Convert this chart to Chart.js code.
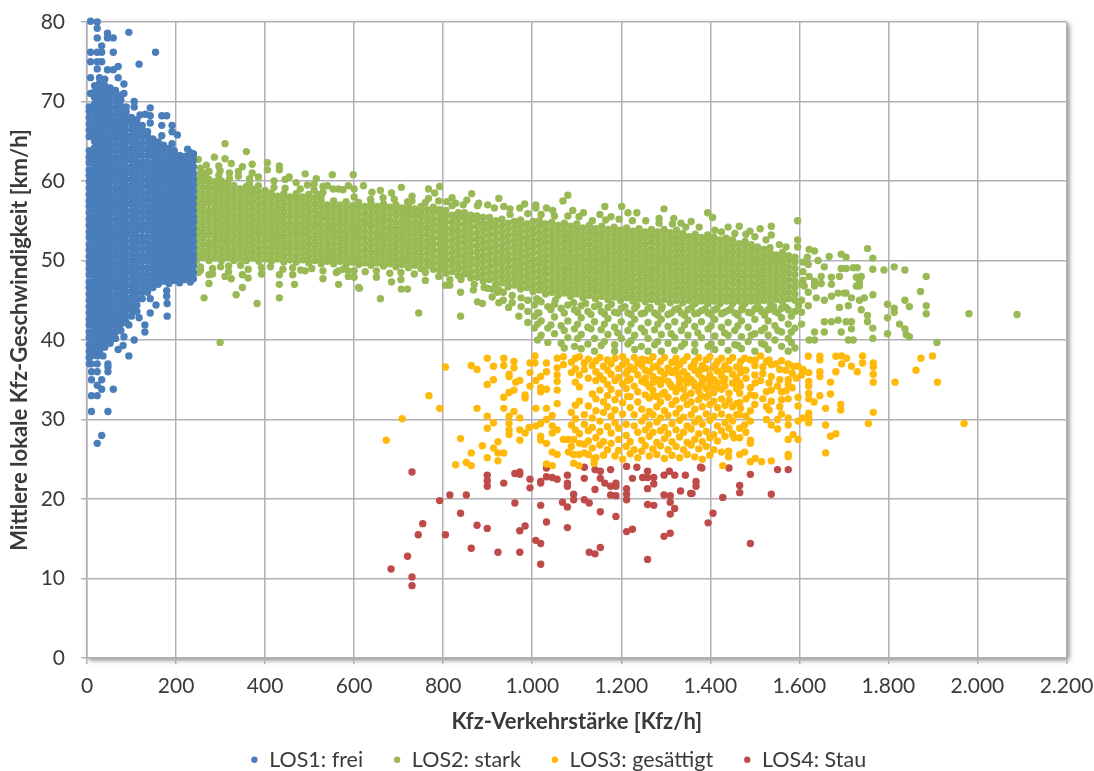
<!DOCTYPE html>
<html lang="de">
<head>
<meta charset="UTF-8" />
<title>Kfz-Geschwindigkeit</title>
<script src="https://cdn.jsdelivr.net/npm/chart.js"></script>
<style>
  html, body { margin: 0; background: #fff; overflow: hidden; }
  canvas { display: block; filter: blur(0.5px); }
</style>
</head>
<body>
<canvas id="chart" width="1094" height="771"></canvas>
<script>
const seriesNames = ['LOS1: frei', 'LOS2: stark', 'LOS3: gesättigt', 'LOS4: Stau'];
const seriesColors = ['#4a7ebb', '#98b954', '#ffb90a', '#be4b48'];
const xTicks = [0, 200, 400, 600, 800, 1000, 1200, 1400, 1600, 1800, 2000, 2200];
const yTicks = [0, 10, 20, 30, 40, 50, 60, 70, 80];

// values are rows: [Kfz/h, km/h, km/h, ...]. solid areas are estimated, single dots read off
const los1Core = [
  [5,37,37.8,38.6,39.4,40.3,41,41.9,42.6,43.4,44.2,45,45.8,46.6,47.3,48.2,49,49.7,50.5,51.3,52,52.9,53.6,54.4,55.2,56,56.8,57.5,58.3,59.1,59.9,60.7,61.4,62.3,63,63.8,65.6,66.4,67.2,68,68.8,69.3],
  [17,38.4,39.1,39.8,40.6,41.4,42.2,43,43.8,44.5,45.3,46.1,46.9,47.7,48.5,49.3,50.1,50.8,51.6,52.4,53.2,54,54.8,55.5,56.4,57.2,57.9,58.7,59.5,60.3,61.1,61.8,62.6,63.4,64.2,65,65.8,66.6,67.3,68.1,68.9,69.7,70.5,71.2,72],
  [28,38.6,39.4,40.2,41,41.8,42.5,43.3,44.1,44.9,45.7,46.5,47.2,48,48.8,49.6,50.4,51.2,52,52.7,53.5,54.3,55.1,55.9,56.7,57.4,58.2,59,59.8,60.6,61.4,62.1,62.9,63.7,64.5,65.3,66.1,66.8,67.6,68.4,69.2,70,70.8,71.6,72.3,73],
  [40,39.1,39.9,40.6,41.4,42.2,43,43.8,44.6,45.3,46.1,46.9,47.7,48.5,49.3,50,50.8,51.6,52.4,53.2,54,54.7,55.5,56.3,57.1,57.9,58.7,59.4,60.2,61,61.8,62.6,63.4,64.1,64.9,65.7,66.5,67.3,68.1,68.8,69.6,70.4,71.2,72,72.8],
  [52,39.6,40.4,41.1,41.9,42.7,43.5,44.3,45,45.8,46.6,47.4,48.2,49,49.7,50.5,51.3,52.1,52.9,53.7,54.4,55.2,56,56.8,57.6,58.3,59.1,59.9,60.7,61.5,62.3,63,63.8,64.6,65.4,66.2,67,67.7,68.5,69.3,70.1,70.9,71.7],
  [64,40.2,41,41.8,42.5,43.3,44.1,44.9,45.7,46.5,47.2,48,48.8,49.6,50.4,51.2,51.9,52.7,53.5,54.3,55.1,55.9,56.6,57.4,58.2,59,59.8,60.6,61.3,62.1,62.9,63.7,64.5,65.3,66,66.8,67.6,68.4,69.2,70,70.8,71.4],
  [76,41.2,42,42.8,43.6,44.3,45.1,45.9,46.7,47.5,48.3,49,49.8,50.6,51.4,52.2,53,53.7,54.5,55.3,56.1,56.9,57.7,58.4,59.2,60,60.8,61.6,62.4,63.1,63.9,64.7,65.5,66.3,67.1,67.8,68.6,69.4,70.2,70.8],
  [88,42.2,43,43.8,44.6,45.3,46.1,46.9,47.7,48.5,49.3,50,50.8,51.6,52.4,53.2,54,54.7,55.5,56.3,57.1,57.9,58.7,59.4,60.2,61,61.8,62.6,63.4,64.1,64.9,65.7,66.5,67.3,68,68.7,69.3],
  [100,43,43.8,44.5,45.3,46.1,46.9,47.7,48.5,49.2,50,50.8,51.6,52.4,53.2,53.9,54.7,55.5,56.3,57.1,57.9,58.6,59.4,60.2,61,61.8,62.6,63.3,64.1,64.9,65.7,66.5,67.3,68],
  [112,43.6,44.4,45.1,45.9,46.7,47.5,48.3,49.1,49.8,50.6,51.4,52.2,53,53.8,54.5,55.3,56.1,56.9,57.7,58.5,59.2,60,60.8,61.6,62.4,63.2,63.9,64.7,65.5,66.3,67.1,67.7],
  [124,45.2,46,46.8,47.6,48.3,49.1,49.9,50.7,51.5,52.3,53,53.8,54.6,55.4,56.2,57,57.7,58.5,59.3,60.1,60.9,61.7,62.4,63.2,64,64.8,65.6,66.4,67],
  [136,46,46.8,47.5,48.3,49.1,49.9,50.7,51.5,52.2,53,53.8,54.6,55.4,56.2,56.9,57.7,58.5,59.3,60.1,60.9,61.6,62.4,63.2,64,64.8,65.6,66.2],
  [148,46.6,47.4,48.2,49,49.7,50.5,51.3,52.1,52.9,53.7,54.4,55.2,56,56.8,57.6,58.4,59.1,59.9,60.7,61.5,62.3,63.1,63.8,64.6,65.3],
  [160,47,47.8,48.5,49.3,50.1,50.9,51.7,52.5,53.2,54,54.8,55.6,56.4,57.2,57.9,58.7,59.5,60.3,61.1,61.9,62.6,63.4,64.2,64.9],
  [172,47.4,48.2,49,49.8,50.5,51.3,52.1,52.9,53.7,54.5,55.2,56,56.8,57.6,58.4,59.2,59.9,60.7,61.5,62.3,63.1,63.9,64.5],
  [184,47.1,47.9,48.7,49.4,50.2,51,51.8,52.6,53.4,54.1,54.9,55.7,56.5,57.3,58.1,58.8,59.6,60.4,61.2,62,62.8,63.5,64.1],
  [196,47.5,48.3,49.1,49.9,50.6,51.4,52.2,53,53.8,54.6,55.3,56.1,56.9,57.7,58.5,59.3,60,60.8,61.6,62.4,63.2,63.8],
  [208,47.2,48,48.8,49.5,50.3,51.1,51.9,52.7,53.5,54.2,55,55.8,56.6,57.4,58.2,58.9,59.7,60.5,61.3,62.1,62.8,63.2],
  [220,47.6,48.4,49.2,50,50.7,51.5,52.3,53.1,53.9,54.7,55.4,56.2,57,57.8,58.6,59.4,60.1,60.9,61.7,62.5,63.1],
  [232,47.3,48.1,48.9,49.6,50.4,51.2,52,52.8,53.6,54.3,55.1,55.9,56.7,57.5,58.3,59,59.8,60.6,61.4,62.2,63,63.6],
  [239,47.7,48.5,49.3,50.1,50.8,51.6,52.4,53.2,54,54.8,55.5,56.3,57.1,57.9,58.7,59.5,60.2,61,61.8,62.6,63.4]
];
const los1Single = [
  [8,80.1,76.2,75,73,71],[23,80,79.2,78,76.2,75,74.1,71,38,37,36,34.3,33,27],[33,77,76.2,75,35,33.8,28],[46,78.6,78,74],[59,78,76.2,74,33.8],
  [94,78.7,41.9,38],[154,76.2],[117,74.7,42.8],[70,74.4,73,38.8],[83,72.2,71,40.4,42.8],[106,70,69.3,40],[142,69.2,68.2,67.3,43.4,45.2],
  [119,68.3],[131,68.4],[168,68.2,67,65.7],[179,68.2,46.2,45.5],[191,67,66.2,64.7],[203,65.8],[226,64],[239,63.4],
  [10,39.2,38,37,36,35,33,31],[36,38],[47,37,36.6,36,31],[81,39.3],[130,41,41.9],[180,43,44.6],[155,44.4]
];
const los2Core = [
  [246,50,50.8,51.6,52.4,53.2,54,54.8,55.6,56.4,57.2,58,58.8,59.6,60.4],
  [260,50.4,51.2,52,52.8,53.6,54.4,55.2,56,56.8,57.6,58.4,59.2,60,60.6],
  [274,50,50.8,51.6,52.3,53.2,54,54.8,55.6,56.3,57.2,58,58.8,59.5,60.2],
  [288,50.3,51.1,51.9,52.7,53.5,54.3,55.1,55.9,56.7,57.5,58.3,59.1,59.9],
  [302,50,50.8,51.6,52.4,53.1,53.9,54.7,55.5,56.3,57.1,57.9,58.7,59.4,60],
  [316,50.4,51.2,52,52.7,53.5,54.3,55.1,55.9,56.7,57.5,58.2,59,59.7],
  [330,50,50.8,51.5,52.3,53.1,53.9,54.7,55.5,56.3,57,57.8,58.6,59.4],
  [344,50.3,51.1,51.9,52.7,53.5,54.3,55,55.8,56.6,57.4,58.2,59],
  [358,50,50.8,51.5,52.3,53.1,53.9,54.7,55.5,56.3,57.1,57.8,58.6,59.3],
  [372,50.3,51.1,51.9,52.7,53.5,54.2,55,55.8,56.6,57.4,58.2,59],
  [386,49.9,50.7,51.5,52.3,53.1,53.8,54.6,55.4,56.2,57,57.8,58.6],
  [400,50.2,51,51.8,52.6,53.4,54.2,55,55.7,56.5,57.3,58.1,58.8],
  [414,49.9,50.7,51.5,52.3,53,53.8,54.6,55.4,56.2,57,57.8,58.5],
  [428,50.2,51,51.8,52.6,53.3,54.1,54.9,55.7,56.5,57.3,58.1],
  [442,49.8,50.6,51.4,52.2,53,53.8,54.5,55.3,56.1,56.9,57.7,58.4],
  [456,50.1,50.9,51.7,52.5,53.3,54.1,54.8,55.6,56.4,57.2,58],
  [470,49.8,50.6,51.4,52.2,53,53.7,54.5,55.3,56.1,56.9,57.7,58.4],
  [484,50.1,50.9,51.7,52.5,53.3,54,54.8,55.6,56.4,57.2,58],
  [498,49.7,50.5,51.3,52.1,52.9,53.7,54.5,55.2,56,56.8,57.6,58.3],
  [512,50,50.8,51.6,52.4,53.2,54,54.7,55.5,56.3,57.1,57.9],
  [526,49.6,50.4,51.2,52,52.8,53.6,54.4,55.2,55.9,56.7,57.5,58.1],
  [540,49.9,50.7,51.5,52.3,53.1,53.9,54.6,55.4,56.2,57],
  [554,49.6,50.4,51.2,52,52.8,53.6,54.3,55.1,55.9,56.7,57.5],
  [568,49.9,50.7,51.5,52.3,53.1,53.8,54.6,55.4,56.2,57],
  [582,49.5,50.3,51.1,51.9,52.7,53.5,54.3,55,55.8,56.6,57.4],
  [596,49.8,50.6,51.4,52.2,53,53.8,54.5,55.3,56.1,56.9],
  [610,49.5,50.3,51.1,51.9,52.7,53.4,54.2,55,55.8,56.6,57.3],
  [624,49.7,50.5,51.3,52.1,52.9,53.7,54.5,55.2,56,56.8],
  [638,49.4,50.2,51,51.8,52.6,53.4,54.2,54.9,55.7,56.5,57.2],
  [652,49.7,50.5,51.3,52.1,52.9,53.6,54.4,55.2,56,56.8],
  [666,49.3,50.1,50.9,51.7,52.5,53.3,54.1,54.9,55.6,56.4,57.1],
  [680,49.6,50.4,51.2,52,52.8,53.6,54.3,55.1,55.9,56.7],
  [694,49.2,50,50.8,51.6,52.4,53.2,54,54.8,55.6,56.3,57],
  [708,49.5,50.3,51.1,51.9,52.7,53.5,54.3,55,55.8,56.6],
  [722,49.1,49.9,50.7,51.5,52.3,53.1,53.9,54.7,55.5,56.2,56.9],
  [736,49.4,50.2,51,51.8,52.6,53.4,54.2,54.9,55.7,56.5],
  [750,49,49.8,50.6,51.4,52.2,53,53.8,54.6,55.4,56.1,56.8],
  [764,49.3,50.1,50.9,51.7,52.5,53.3,54.1,54.9,55.6,56.4],
  [778,48.9,49.7,50.5,51.3,52.1,52.9,53.7,54.5,55.3,56.1,56.7],
  [792,48.8,49.6,50.4,51.2,52,52.8,53.6,54.3,55.1,55.9,56.4],
  [806,48.4,49.2,50,50.8,51.6,52.4,53.2,54,54.8,55.6,56.3],
  [820,48.6,49.4,50.2,51,51.8,52.6,53.4,54.1,54.9,55.7],
  [834,48.1,48.9,49.7,50.5,51.3,52.1,52.9,53.7,54.5,55.3,56],
  [848,48.3,49.1,49.9,50.7,51.5,52.3,53.1,53.8,54.6,55.4,56],
  [862,47.8,48.6,49.4,50.2,51,51.8,52.6,53.4,54.2,55,55.7],
  [876,47.9,48.7,49.5,50.3,51.1,51.9,52.7,53.5,54.3,55,55.6],
  [890,47.4,48.2,49,49.8,50.6,51.4,52.2,53,53.8,54.6,55.4],
  [904,47.6,48.4,49.2,50,50.8,51.6,52.4,53.2,54,54.7,55.4],
  [918,47,47.8,48.6,49.4,50.2,51,51.8,52.6,53.4,54.2,55],
  [932,47.2,48,48.8,49.6,50.4,51.2,52,52.8,53.6,54.4,55.2],
  [946,46.7,47.5,48.3,49.1,49.9,50.7,51.5,52.3,53.1,53.9,54.7],
  [960,46.9,47.7,48.5,49.3,50.1,50.9,51.7,52.5,53.3,54.1,54.9],
  [974,46.4,47.2,48,48.8,49.6,50.4,51.2,52,52.8,53.6,54.4,55.1],
  [988,46.6,47.4,48.2,49,49.8,50.6,51.4,52.2,53,53.8,54.6],
  [1002,46.1,46.9,47.7,48.5,49.3,50.1,50.9,51.7,52.5,53.3,54.1,54.9],
  [1016,46.3,47.1,47.9,48.7,49.5,50.3,51.1,51.9,52.7,53.5,54.3,55],
  [1030,45.8,46.6,47.4,48.2,49,49.8,50.6,51.4,52.2,53,53.8,54.6],
  [1044,46,46.8,47.6,48.4,49.2,50,50.8,51.6,52.4,53.2,54,54.8],
  [1058,45.6,46.4,47.2,48,48.8,49.6,50.4,51.2,52,52.8,53.6,54.4],
  [1072,45.9,46.7,47.5,48.3,49.1,49.9,50.7,51.5,52.3,53.1,53.9,54.7],
  [1086,45.5,46.3,47.1,47.9,48.7,49.5,50.3,51.1,51.9,52.7,53.5,54.3],
  [1100,45.8,46.6,47.4,48.2,49,49.8,50.6,51.4,52.2,53,53.8,54.6],
  [1114,45.3,46.1,46.9,47.7,48.5,49.3,50.1,50.9,51.7,52.5,53.3,54.1],
  [1128,45.6,46.4,47.2,48,48.8,49.6,50.4,51.2,52,52.8,53.6,54.4],
  [1142,45.2,46,46.8,47.6,48.4,49.2,50,50.8,51.6,52.4,53.2,54],
  [1156,45.5,46.3,47.1,47.9,48.7,49.5,50.3,51.1,51.9,52.7,53.5,54.3],
  [1170,45.1,45.9,46.7,47.5,48.3,49.1,49.9,50.7,51.5,52.3,53.1,53.9],
  [1184,45.4,46.2,47,47.8,48.6,49.4,50.2,51,51.8,52.6,53.4,54.2],
  [1198,45,45.8,46.6,47.4,48.2,49,49.8,50.6,51.4,52.2,53,53.8],
  [1212,45.3,46.1,46.9,47.7,48.5,49.3,50.1,50.9,51.7,52.5,53.3,54.1],
  [1226,44.9,45.7,46.5,47.3,48.1,48.9,49.7,50.5,51.3,52.1,52.9,53.7],
  [1240,45.2,46,46.8,47.6,48.4,49.2,50,50.8,51.6,52.4,53.2,54],
  [1254,44.8,45.6,46.4,47.2,48,48.8,49.6,50.4,51.2,52,52.8,53.6],
  [1268,45.1,45.9,46.7,47.5,48.3,49.1,49.9,50.7,51.5,52.3,53.1,53.9],
  [1282,44.8,45.6,46.4,47.2,48,48.8,49.6,50.4,51.2,52,52.8,53.6],
  [1296,45.1,45.9,46.7,47.5,48.3,49.1,49.9,50.7,51.5,52.3,53.1,53.9],
  [1310,44.7,45.5,46.3,47.1,47.9,48.7,49.5,50.3,51.1,51.9,52.7,53.5],
  [1324,45,45.8,46.6,47.4,48.2,49,49.8,50.6,51.4,52.2,53,53.8],
  [1338,44.7,45.5,46.3,47.1,47.9,48.7,49.5,50.3,51.1,51.9,52.7,53.4],
  [1352,45,45.8,46.6,47.4,48.2,49,49.8,50.6,51.4,52.2,53],
  [1366,44.6,45.4,46.2,47,47.8,48.6,49.4,50.2,51,51.8,52.6,53.3],
  [1380,44.9,45.7,46.5,47.3,48.1,48.9,49.7,50.5,51.3,52.1,52.9],
  [1394,44.6,45.4,46.2,47,47.8,48.6,49.4,50.2,51,51.8,52.6,53.2],
  [1408,44.9,45.7,46.5,47.3,48.1,48.9,49.7,50.5,51.3,52.1,52.9],
  [1422,44.6,45.4,46.2,47,47.8,48.6,49.4,50.2,51,51.8,52.6],
  [1436,44.9,45.7,46.5,47.3,48.1,48.9,49.7,50.5,51.3,52.1,52.8],
  [1450,44.6,45.4,46.2,47,47.8,48.6,49.4,50.2,51,51.8,52.6],
  [1464,44.9,45.7,46.5,47.3,48.1,48.9,49.7,50.5,51.3,52.1],
  [1478,44.6,45.4,46.2,47,47.8,48.6,49.4,50.2,51,51.8,52.4],
  [1492,44.9,45.7,46.5,47.3,48.1,48.9,49.7,50.5,51.3,52],
  [1506,44.6,45.4,46.2,47,47.8,48.6,49.4,50.2,51,51.7],
  [1520,45,45.8,46.6,47.4,48.2,49,49.8,50.6,51.4],
  [1534,44.7,45.5,46.3,47.1,47.9,48.7,49.5,50.3,51,51.6],
  [1548,45.1,45.9,46.7,47.5,48.3,49.1,49.9,50.7],
  [1562,44.8,45.6,46.4,47.2,48,48.8,49.6,50.4,51],
  [1576,45.2,46,46.8,47.6,48.4,49.2,50,50.6],
  [1590,45,45.8,46.6,47.4,48.2,49,49.8,50.4]
];
const los2Edge = [
  [255,61.6,60.9,49.2,48.8],[268,62,61],[282,49,48.3],[296,60.7,61.9],[300,49.2],[318,49.3,48.6],[320,61,60.3],[340,60.6,61.2],[345,49.4],[362,48.9,47.8],[365,60.3,59.7],[385,60.5,59.4],[392,49.1,48.3],
  [412,49.2],[420,60,59.2],[440,48.9],[445,60.2,59.1],[462,49.1,48.2],[470,59.8],[480,48.8],[505,49],[510,59.6,58.9],[530,59.3,58.6,48.7,47.7],[560,48.5],[575,58.9,48.9],[600,59,58,48.7,47.9],[625,48.6],
  [640,58.6],[650,48.7,47.9],[665,57.9],[680,48.4],[690,57.7],[705,48.5,47.6],[730,58.1,57.5],[735,48.3],[760,57.3,48.5,47.5],[790,57.5,48],[815,47.6,46.9],[820,57.9,56.9],[840,47.6],[845,57],[870,47],[880,57.2],
  [900,46.5],[915,56.6],[925,46.3],[950,56.5,55.8],[990,55.9],[1020,55.8],[1050,55.6],[1080,55.6],[1105,55.5],[1135,55],[1165,55.1],[1195,55.2],[1225,55],[1255,55],[1285,54.7],[1315,54.6],[1345,54.2],[1375,54.2],
  [1410,53.8],[1425,53.6],[1455,53.4],[1480,53.3],[1500,53],[1525,52.6],[1555,52],[1570,51.7],
  [1012,43.4,42,40],[1042,43.8,41.9],[1072,43.4,41.2,39],[1102,43.5,42,40.2],[1132,43.2,41.4],[1162,43.3,42,39.8],[1192,43.4,40.9],[1222,43.2,42,39.9],[1252,43.4,41],[1282,43.1,42,39.8],[1312,43.4,40.8],
  [1342,43.1,41.9,39.6],[1372,43.4,40.9],[1402,43.2,41.8,39.5],[1432,43.5,40.9],[1462,43.1,41.8,39.3],[1492,43.4,40.6],[1522,43.1,41.5,39.4],[1552,43.4,41.2],[1582,43,41,39.7],
  [1010,45.2],[1052,45],[1093,44.7],[1120,44.6],[1150,44.4],[1178,44.5],[1208,44.2],[1235,44.3],[1265,44.1],[1292,44.2],[1328,44],[1358,44.1],[1388,43.9],[1415,44],[1445,43.9],[1472,44.1],[1512,43.9],[1542,44.2],[1570,44.1],[1598,44.3]
];
const los2Single = [
  [263,45.3],[335,45.7],[382,44.6],[432,45.3,48.2,47,61.9,61.4],[299,39.7,61.3],[274,48.2,47.1,61.2],[349,46.6,48.2,61.8],[466,47],[565,47,48.7,59],[490,48.7,60.9],
  [587,48.7,48,59.4],[610,46.6],[250,48.5,62.7],[310,48,64.7,62.8],[324,47.7,62.2],[358,63.7],[286,63],[371,62.1,61],[405,62.3,61.4],[551,60.8],[598,60.8],[515,60.3],
  [454,60.5],[621,59.4],[540,59.4],[659,58.8,45.2],[706,59.2,46.4],[684,58.5,47.3],[767,59,57.8],[792,59.3],[781,58.5],[864,58.4],[925,57.8,44.7],[853,57.6],[637,57.7],
  [983,57.1],[1008,57,56.6],[972,56.6],[936,56.8],[900,57],[877,56.9,44.8],[720,57.4,46.4],[808,57.4],[828,57.2],[553,59],[495,59.5],[479,59],[517,58.3],[612,46.5],
  [745,43.4],[839,46,43],[888,44.6],[805,46.9],[922,46],[947,44.1],[970,43],[868,46.3],[1015,45,43.4],
  [2089,43.2],[1981,43.3],[1909,39.7],[1885,48,44.3,43.3],[1872,46.1],[1847,44.2,40.4],[1837,45,48.8,41.4],[1813,49.2,44,43.5],[1790,48.8],[1765,48.9,50.3,45.7,41.5,40.2],[1753,51.5,43.1,42.3],
  [1596,55,52.6,51.7],[1537,54.3,53.2],[1512,54],[1489,53.7],[1465,54.3],[1440,54.2],[1394,56],[1405,55.4],[1296,56.5],[1285,55.3],[1318,55.3],[1080,58.2],[1069,57.5],[1163,56.8],[1201,56.8],
  [1032,56.6],[1046,56.3],[1091,56.3],[1115,56],[1177,55.5],[1152,55.8],[1235,56],[1215,56],[1357,54.9],[1334,54.7],
  [1622,51.4,48,40],[1634,51.2,47.4,46.8,41,40],[1618,50.4],[1642,50],[1667,50.5],[1694,50.8,49,41],[1705,50.4,49,45.9,42.3],[1656,49.2,45,42.3,41],[1721,49.1,40],[1730,49.1],[1739,48,43.8],
  [1728,47.9,46.8],[1735,47.3,46.8,45],[1690,48,44.1],[1672,47.9,47,45.5,42.3],[1649,48,47.1],[1611,46.8],[1608,48.6,49.8,47.5],[1746,45.3],[1717,45.3,42.3,41.4],[1701,45.9],[1687,45.9,42.5],
  [1638,45.3],[1620,44.3,46,49.5],[1710,44.3,40],[1798,44.5,42.8,40.8],[1825,42],[1840,40.7],
  [1605,47,45,43.5,42],[1590,43.6,41.5,39],[1575,43.8,42,40.2,38.6],[1560,44,42.8,41,39.2],[1545,43.6,41.8,40],[1530,43.8,42.4,40.6,38.8],[1515,43.6,41.2,39.6],[1500,43.9,42.6,40.8,38.6],
  [1485,43.5,41.6,39.8],[1470,43.8,42.4,40.4,38.9],[1455,43.4,41.2,39.4],[1440,43.7,42.2,40.6,38.7],[1425,43.3,41.6,39.7],[1410,43.8,42.6,40.5,38.8],[1395,43.4,41.4,39.2],[1380,43.7,42.3,40.3],
  [1365,43.3,41.7,39.5,38.6],[1350,43.8,42.5,40.6],[1335,43.4,41.2,39.2],[1320,43.8,42.3,40.3,38.7],[1305,43.2,41.7,39.6],[1290,43.9,42.6,40.7,38.6],[1275,43.4,41.3,39.4],[1260,43.9,42.2,40.2,38.6],
  [1245,43.3,41.5,39.2],[1230,44,42.6,40.6,38.8],[1215,43.4,41.2,39.5],[1200,44,42.3,40.2],[1185,43.5,41.6,39.4,38.6],[1170,44.1,42.7,40.7],[1155,43.6,41.3,39.3],[1140,44.2,42.3,40.2,38.6],
  [1125,43.6,41.6,39.5],[1110,44.3,42.8,40.7,38.9],[1095,43.8,41.4,39.2],[1080,44.4,42.4,40.3],[1065,44,41.8,39.6],[1050,44.5,42.9,40.8],[1035,44.2,41.5,39.7],[1020,44.8,42.4,40.6],
  [1005,44.4,43,41.5],[990,45,43.6,42.2],[975,45.3,44.2],[955,45.6,44.7],[935,46,45],[910,46.4,45.4],[892,46.6]
];
const los3Core = [
  [1088,37.2,35.9,30.9,29.3,26.6],[1097,37.7,36.4,34.7,31.8,30.1,28.7],[1106,37.9,35.6,34.1,32.3,28.2,27],[1117,37.1,36.3,30.6,29.4,26.9],[1126,37.6,35.2,31.7,28.6,27.3,25.6],[1135,36.8,33.2,30.2,29,26.4],
  [1143,37.4,36,34.9,32.6,31.1,27.7,25.2],[1152,37.8,35.5,33.7,29.8,28.5,26.8],[1160,36.7,35,32.2,30.9,27.2,25.5],[1169,37.5,36.2,34.4,33,31.6,29.1,26.2],[1177,37,35.7,33.8,30.4,28.3,27],[1186,37.7,34.9,32.5,31.2,29.6,25.4],
  [1194,36.4,35.3,33.3,28.9,27.5,26.1],[1203,37.9,36.9,34.5,32.1,30.7,25],[1211,37.3,35.8,33.9,29.4,28,26.6],[1220,36.6,35.1,32.9,31.5,27.2,25.7],[1229,37.8,36.3,34.2,30.6,29.2,26.2],[1237,37.1,35.6,33.5,32.2,28.4,25.2],
  [1246,37.6,36.8,34.8,31.3,29.8,27.4,26],[1254,36.2,35.2,33.1,30.3,28.7,26.7],[1263,37.4,36,34.1,32.7,31,29.3,27.9,25.4],[1271,37.9,35.4,33.7,30.6,28.4,26.3],[1280,36.7,35,32.9,31.6,29.7,27.1,25.6],[1288,37.3,36.1,34.4,32.2,30.2,28.6,26.7],
  [1297,37.8,35.7,33.4,31.1,29,27.6,25.1],[1305,36.5,34.8,32.8,30.5,28.2,26.2],[1314,37.2,35.9,34.1,31.9,29.5,27.2,25.5],[1323,37.7,36.3,33.5,32.4,30.8,28.7,26.6],[1331,36.9,35.1,34.5,31.4,29.9,27.8,25.2],[1340,37.4,36,33.8,32.7,30.3,28.4,26.2],
  [1348,37.9,35.5,34.6,31.9,29.2,27.1,25.6],[1357,36.6,35,33.3,32.2,30.6,28.8,26.8],[1365,37.3,36.2,34.2,31.3,29.7,27.5,25.3],[1374,37.8,35.7,33.6,32.5,30.1,28.2,26.3],[1382,36.8,35.2,34.7,31.6,29.4,27.2,25],[1391,37.5,36.4,33.9,32.8,30.7,28.5,26.6],
  [1399,37.9,35.6,34.3,31.9,29.9,27.7,25.5],[1408,36.5,35,33.4,32.3,30.4,28.1,26.2],[1416,37.3,36.1,34.6,31.5,29.2,27.3],[1425,37.7,35.5,33.8,32.6,30.7,28.6,25.9],[1433,36.8,35.1,34.2,31.8,29.6,27.9],[1442,37.4,36.3,33.3,32.4,30.3,28.9],
  [1450,37.8,35.7,34.6,31.6,29.8,28.2],[1459,36.6,35.2,33.9,32,30.6],[1468,37.3,35.9,34.2,31.4],[1480,36.2,35.2,32.6,30.4,28.4],
  [1214,36.1,34.9,32.9],[1255,37.5,34.6],[1272,36.6,34.7,33],[1292,35,33.2],[1310,36.1,34.4],[1328,37,35.6,34],[1345,35,33],[1362,36.8,34.7],[1379,36.3,34.4,33],[1396,35.1,33.1],[1412,36.9,34],[1430,36.3,34.8],
  [1500,36.8,35.6,33],[1518,36.6,35.8,32.6],[1532,37.5,34.6,31.2],[1556,36.3,35,31.6],[1570,36.2,33.6],[1584,35.8,34]
];
const los3Single = [
  [672,27.4],[708,30.1],[768,33],[792,31.4],[805,36.6],[839,27.6],[828,24.3],[852,24.6],[863,24.2,25.8,36.8],[888,26.7],[876,31.4,36.3],[899,37.7,34.4,30.4,28.9,25.2],[913,36.7,35,29.6,26.4],
  [936,37.7,36.8,32.8,31.4,25.8],[959,37.3,36.5,33.7,31],[948,35.7,35.4,33.4,30.4,29.5,28.7,28.1],[963,34.7],[972,34.9,30.2,28.7,27.4],[984,33.1,32.7,28.3],[923,27.2,25.8,24.8],
  [995,35.9,34.2,37.1],[1006,37.1,38],[1032,37.1,36,33.8,31.4,30,27,24.4],[1019,35.4,34,33.5,29.5,27.9,27.4],[1008,34.9,31.4,29.2],[1056,37.7,36.5,35.6,34.8,33.7,32,28.7,25.6],[1070,37.9,36.9,27.5],
  [1045,30.5,29.2,28.3,25.9,24.2],[993,29],[1081,27.5,25.9],[1093,27.5,25.6,24.5],[1105,25.6,24.2],[1117,25.8],[1139,25.1,24.5],
  [1620,37.95],[1646,37.95,37.5,36,35.4,33],[1682,37.95,36,28.2],[1695,38,37],[1706,37.7],[1717,36.7],[1730,36],[1742,38,37.1],[1766,37.1,36.6,35.7,34.7,30.9],[1815,34.7],[1862,36.2],[1873,37.7],[1899,38],[1910,34.7],
  [1970,29.5],[1755,29.5],[1693,31.9,31.2],[1659,31.4,29.3,25.8],[1670,33.2,34.7,27.9],[1621,34.8,34.2,33.3,32.6,30.8,30.2,29.6,35.9],[1633,32.2],[1608,30.2,36.3],[1597,29.8,31.7,32.8,27.5,36.7],[1586,28.1,36.7],
  [1575,27.5,29.3,30.2,32.6,25.6,25.3,37,35,34.4],[1551,28.8,34.2,30],[1537,24.8,36.9,35.4,33.7,32.3,29.3],[1515,24.7],[1501,25.1,37.5,34.6],[1490,24.7,27.4,27,37.5,34,33.1,31.1,29.8],[1466,25.6,27.7,28.9,30.6,32.1,33.3,34.6,36.5],
  [1477,25.9,37.7,29.3],[1453,27.7],[1441,26,25.3],[1428,24.2],[1513,38,34.9],[1526,37.3,33.5,31.6,30],[1560,37.4,33.5,32.5,30.7],[1548,37],[1605,35.6],[1593,35.2],[1500,31.9]
];
const los4Single = [
  [730,23.4,10.2,9.1],[899,23,22.3,21.6,16.3],[936,22],[961,23.2,19.5],[972,23.4,23.1,16,13.3],[995,22.5,21.4],[1019,22.2,22,19.2,14.4,11.8],[1032,23.9,22.8,17.1],[1045,22.7],[1056,22.5],
  [1079,23,22,21.6,19,16.4],[1117,24,22.6,19.9],[1141,23.7,21.2,13.1],[1153,23.5,22.6,18.4,13.9],[1163,22],[1176,23.7,21.6,20.5],[1188,22,21.6,20.4,17.8],[1093,20.6,19.9],[1128,19.5,13.3],
  [1212,24.1,21.3,20.6,19.9,15.9],[1235,24],[1225,22.6,16.2],[1248,22.7],[1259,23.5,22.7,21.3,19.3,12.4],[1273,22.7,21.9,19.2],[1296,23,20.5,15.3],[1308,23.5],[1320,23,18.8],[1344,23],[1368,22.2,21.6],[1378,24],
  [1333,21],[1356,20.7],[1310,20.4,19.6,18.1,15.7],[1068,19.6],[852,20.5],[815,20.5],[792,19.8],[839,18.2],[754,16.9],[744,15.5],[805,15.5],[876,16.7],[863,13.8],[923,13.3],[984,16.6],[1008,14.8],[720,12.8],[683,11.2],
  [1381,23.9],[1442,23.9],[1490,23.1,14.4],[1551,23.7],[1575,23.7],[1466,21.7,20.8],[1428,20.2],[1537,20.6],[1406,18.2],[1395,17],[1359,20.7]
];

function toPoints(rows) {
  return rows.flatMap(([x, ...ys]) => ys.map(y => ({ x, y })));
}

const font = 'Lato, sans-serif';
const textColor = '#3a3a3a';
const gridColor = '#b2b0b6';

// grey shadow behind the plot area like the Excel original, and legend moved to its place
const plotFrame = {
  id: 'plotFrame',
  afterLayout(chart) {
    chart.legend.top = 719;
    chart.legend.left += 25;
    chart.legend.right += 25;
  },
  beforeDraw(chart) {
    const { ctx, chartArea: a } = chart;
    ctx.save();
    ctx.shadowColor = 'rgba(0,0,0,0.5)';
    ctx.shadowBlur = 5;
    ctx.shadowOffsetX = 2;
    ctx.shadowOffsetY = 2;
    ctx.fillStyle = '#fff';
    ctx.fillRect(a.left, a.top, a.width, a.height);
    ctx.restore();
  }
};

new Chart(document.getElementById('chart'), {
  type: 'scatter',
  plugins: [plotFrame],
  data: {
    datasets: [
      toPoints(los1Core.concat(los1Single)),
      toPoints(los2Core.concat(los2Edge, los2Single)),
      toPoints(los3Core.concat(los3Single)),
      toPoints(los4Single)
    ].map((data, i) => ({
      label: seriesNames[i],
      data,
      backgroundColor: seriesColors[i],
      borderWidth: 0,
      pointRadius: 3.7,
      clip: false
    }))
  },
  options: {
    responsive: false,
    animation: false,
    layout: { padding: { top: 22, right: 27.5, left: 0, bottom: 0 } },
    plugins: {
      tooltip: { enabled: false },
      legend: {
        position: 'bottom',
        maxHeight: 36,
        labels: {
          usePointStyle: true,
          pointStyle: 'circle',
          boxWidth: 8,
          boxHeight: 4.5,
          padding: 30,
          color: textColor,
          font: { family: font, size: 21.5 }
        }
      }
    },
    scales: {
      x: {
        type: 'linear',
        min: 0,
        max: 2200,
        afterBuildTicks: s => { s.ticks = xTicks.map(value => ({ value })); },
        afterFit: s => { s.height = 77; s.paddingLeft = 0; s.paddingRight = 0; },
        grid: { color: gridColor, lineWidth: 1.5, tickLength: 6 },
        border: { color: gridColor, width: 1.5 },
        ticks: {
          color: textColor,
          padding: 10,
          maxRotation: 0,
          font: { family: font, size: 21 },
          callback: v => v.toLocaleString('de-DE')
        },
        title: {
          display: true,
          text: 'Kfz-Verkehrstärke [Kfz/h]',
          color: textColor,
          padding: { top: 8, bottom: 0 },
          font: { family: font, size: 22, weight: 'bold' }
        }
      },
      y: {
        min: 0,
        max: 80,
        afterBuildTicks: s => { s.ticks = yTicks.map(value => ({ value })); },
        afterFit: s => { s.width = 87; s.paddingTop = 0; s.paddingBottom = 0; },
        grid: { color: gridColor, lineWidth: 1.5, tickLength: 6 },
        border: { color: gridColor, width: 1.5 },
        ticks: {
          color: textColor,
          padding: 16,
          font: { family: font, size: 21 }
        },
        title: {
          display: true,
          text: 'Mittlere lokale Kfz-Geschwindigkeit [km/h]',
          color: textColor,
          padding: { top: 7, bottom: 0 },
          font: { family: font, size: 22, weight: 'bold' }
        }
      }
    }
  }
});
</script>
</body>
</html>
